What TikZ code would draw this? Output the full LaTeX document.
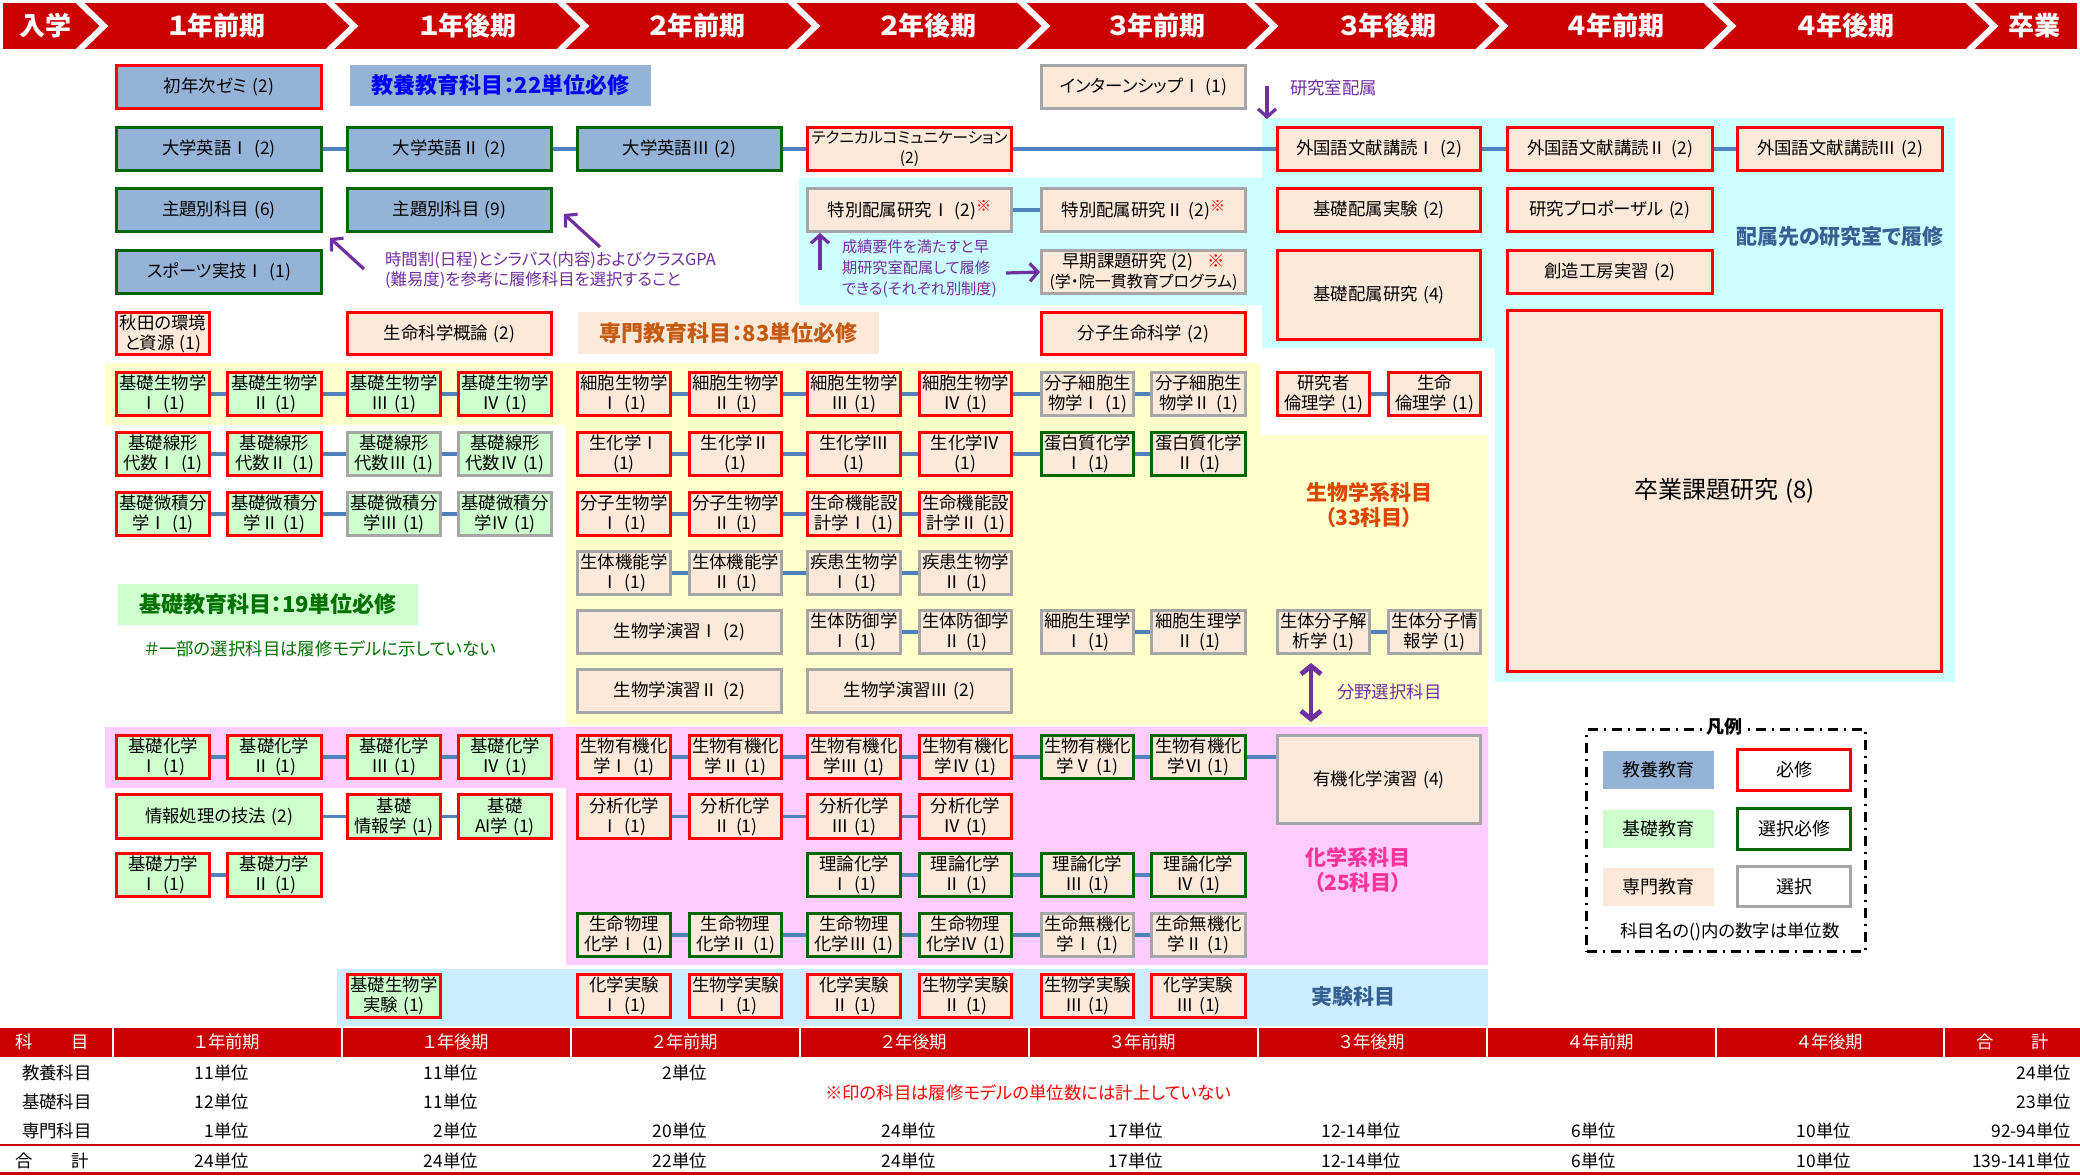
\documentclass[tikz,border=0pt]{standalone}
\usepackage{fontspec}
\setmainfont{Noto Sans CJK JP}[RawFeature={+palt}]
\usetikzlibrary{arrows.meta}
\pgfdeclarelayer{bgfill}
\pgfdeclarelayer{bglink}
\pgfsetlayers{bgfill,bglink,main}
\definecolor{kyoC}{RGB}{149,179,215}
\definecolor{kisC}{RGB}{204,255,204}
\definecolor{senC}{RGB}{253,233,217}
\definecolor{reqC}{RGB}{255,0,0}
\definecolor{selC}{RGB}{0,102,0}
\definecolor{optC}{RGB}{166,166,166}
\definecolor{linkC}{RGB}{79,129,189}
\definecolor{yelC}{RGB}{255,255,204}
\definecolor{pinkC}{RGB}{255,204,255}
\definecolor{cyanC}{RGB}{204,255,255}
\definecolor{expC}{RGB}{204,236,255}
\definecolor{hdrC}{RGB}{204,0,0}
\definecolor{purC}{RGB}{112,48,160}
\definecolor{steelC}{RGB}{54,96,146}
\definecolor{bioC}{RGB}{222,70,0}
\definecolor{chemC}{RGB}{255,51,153}
\definecolor{kyoT}{RGB}{0,0,255}
\definecolor{senT}{RGB}{197,90,17}
\definecolor{kisT}{RGB}{0,112,0}
\newcommand\fs{\fontsize{8.7}{10}\selectfont}
\newcommand\lab{\fontsize{11}{13}\selectfont\bfseries}
\newcommand\blab{\fontsize{10.5}{12.5}\selectfont\bfseries}
\newcommand\hdf{\fontsize{13}{15}\selectfont\bfseries}
\newcommand\cnt[1]{\hspace{0.3em}(#1)}
\newcommand\kome{{\color{reqC}\raisebox{0.6ex}{\fontsize{7.5}{8}\selectfont ※}}}
\newcommand\setc[3]{\expandafter\def\csname c#1a\endcsname{#2}\expandafter\def\csname c#1b\endcsname{#3}}
\newcommand\setr[3]{\expandafter\def\csname r#1a\endcsname{#2}\expandafter\def\csname r#1b\endcsname{#3}}
\setc{A}{115}{323}\setc{A1}{115}{211}\setc{A2}{226}{323}
\setc{B}{346}{553}\setc{B1}{346}{442}\setc{B2}{457}{553}
\setc{C}{576}{783}\setc{C1}{576}{672}\setc{C2}{688}{783}
\setc{D}{806}{1013}\setc{D1}{806}{902}\setc{D2}{918}{1013}
\setc{E}{1040}{1247}\setc{E1}{1040}{1135}\setc{E2}{1150}{1247}
\setc{F}{1276}{1482}\setc{F1}{1276}{1371}\setc{F2}{1387}{1482}
\setc{G}{1506}{1714}\setc{H}{1736}{1944}
\setr{0}{64}{110}\setr{1}{126}{172}\setr{2}{187}{233}\setr{3}{249}{295}
\setr{4}{311}{356}\setr{5}{371}{417}\setr{6}{431}{477}\setr{7}{491}{537}
\setr{8}{550}{596}\setr{9}{609}{655}\setr{10}{668}{714}\setr{11}{734}{780}
\setr{12}{793}{840}\setr{13}{852}{898}\setr{14}{912}{958}\setr{15}{973}{1019}
\tikzset{
  bx/.style={draw, line width=1.7pt, align=center, inner sep=0pt, text=black},
  ky/.style={fill=kyoC}, ki/.style={fill=kisC}, se/.style={fill=senC},
  rq/.style={draw=reqC}, sl/.style={draw=selC}, op/.style={draw=optC},
  conn/.style={draw=linkC, line width=1.8pt},
  parr/.style={draw=purC, line width=1.6pt, -{Straight Barb[length=4pt,width=9pt]}},
  darr/.style={draw=purC, line width=2.4pt, {Straight Barb[length=4pt,width=10pt]}-{Straight Barb[length=4pt,width=10pt]}},
  hdr/.style={text=white, font=\hdf},
  val/.style={anchor=east},
}
\newcommand\rbx[7]{\node[bx,#6,minimum width={(#4-#2)*0.5pt-1.7pt},minimum height={(#5-#3)*0.5pt-1.7pt}] (#1) at ({(#2+#4)/2},{(#3+#5)/2}) {#7};}
\newcommand\bx[5]{\edef\bxXa{\csname c#2a\endcsname}\edef\bxXb{\csname c#2b\endcsname}\edef\bxYa{\csname r#3a\endcsname}\edef\bxYb{\csname r#3b\endcsname}\rbx{#1}{\bxXa}{\bxYa}{\bxXb}{\bxYb}{#4}{#5}}
\begin{document}
\begin{tikzpicture}[x=0.5pt,y=-0.5pt,font=\fs]
\useasboundingbox (0,0) rectangle (2080,1175);
\begin{pgfonlayer}{bgfill}
\fill[white] (0,0) rectangle (2080,1175);
\fill[yelC] (105,363) -- (1260,363) -- (1260,435) -- (1488,435) -- (1488,725) -- (566,725) -- (566,425) -- (105,425) -- cycle;
\fill[pinkC] (105,727) -- (1488,727) -- (1488,965) -- (566,965) -- (566,788) -- (105,788) -- cycle;
\fill[cyanC] (799,178) -- (1262,178) -- (1262,118) -- (1955,118) -- (1955,682) -- (1495,682) -- (1495,348) -- (1262,348) -- (1262,305) -- (799,305) -- cycle;
\fill[expC] (337,969) rectangle (1488,1026);
\end{pgfonlayer}
% header band
\fill[hdrC] (3,3) rectangle (2077,49);
\begin{scope}
\clip (3,3) rectangle (2077,49);
\foreach \a in {77,327,558,789,1019,1247,1477,1705,1967}
  \draw[white, line width=3pt, miter limit=10] (\a,0) -- (\a+27,26) -- (\a,52);
\end{scope}
\foreach \t/\x [count=\i] in {入学/45,１年前期/217,１年後期/468,２年前期/697,２年後期/928,３年前期/1157,３年後期/1388,４年前期/1616,４年後期/1846,卒業/2034}
  \node[hdr] (hd\i) at (\x,26) {\t};
% row 0
\bx{zemi}{A}{0}{ky,rq}{初年次ゼミ\cnt{2}}
\rbx{lkyo}{348}{63}{653}{108}{draw=none,fill=kyoC,font=\lab,text=kyoT}{教養教育科目：22単位必修}
\bx{intern}{E}{0}{se,op}{インターンシップⅠ\cnt{1}}
% row 1
\bx{eng1}{A}{1}{ky,sl}{大学英語Ⅰ\cnt{2}}
\bx{eng2}{B}{1}{ky,sl}{大学英語Ⅱ\cnt{2}}
\bx{eng3}{C}{1}{ky,sl}{大学英語Ⅲ\cnt{2}}
\bx{tech}{D}{1}{se,rq,font=\fontsize{7.8}{10}\selectfont}{テクニカルコミュニケーション\\(2)}
\bx{fl1}{F}{1}{se,rq}{外国語文献講読Ⅰ\cnt{2}}
\bx{fl2}{G}{1}{se,rq}{外国語文献講読Ⅱ\cnt{2}}
\bx{fl3}{H}{1}{se,rq}{外国語文献講読Ⅲ\cnt{2}}
% row 2
\bx{shu1}{A}{2}{ky,sl}{主題別科目\cnt{6}}
\bx{shu2}{B}{2}{ky,sl}{主題別科目\cnt{9}}
\bx{tok1}{D}{2}{se,op}{特別配属研究Ⅰ\cnt{2}\kome}
\bx{tok2}{E}{2}{se,op}{特別配属研究Ⅱ\cnt{2}\kome}
\bx{hzj}{F}{2}{se,rq}{基礎配属実験\cnt{2}}
\bx{prop}{G}{2}{se,rq}{研究プロポーザル\cnt{2}}
% row 3
\bx{spo}{A}{3}{ky,sl}{スポーツ実技Ⅰ\cnt{1}}
\bx{soki}{E}{3}{se,op}{早期課題研究\cnt{2}\hspace{0.8em}{\color{reqC}※}\\{\fontsize{8}{10}\selectfont(学・院一貫教育プログラム)}}
\rbx{hzk}{1276}{249}{1482}{341}{se,rq}{基礎配属研究\cnt{4}}
\bx{sozo}{G}{3}{se,rq}{創造工房実習\cnt{2}}
% row 4
\bx{akita}{A1}{4}{se,rq}{秋田の環境\\と資源\cnt{1}}
\bx{gairon}{B}{4}{se,rq}{生命科学概論\cnt{2}}
\rbx{lsen}{576}{310}{881}{356}{draw=none,fill=senC,font=\lab,text=senT}{専門教育科目：83単位必修}
\bx{bunshi}{E}{4}{se,rq}{分子生命科学\cnt{2}}
\rbx{sotsu}{1506}{309}{1943}{673}{se,rq,font=\fontsize{12}{14}\selectfont}{卒業課題研究\cnt{8}}
% row 5
\bx{bio1}{A1}{5}{ki,rq}{基礎生物学\\Ⅰ\cnt{1}}
\bx{bio2}{A2}{5}{ki,rq}{基礎生物学\\Ⅱ\cnt{1}}
\bx{bio3}{B1}{5}{ki,rq}{基礎生物学\\Ⅲ\cnt{1}}
\bx{bio4}{B2}{5}{ki,rq}{基礎生物学\\Ⅳ\cnt{1}}
\bx{cell1}{C1}{5}{se,rq}{細胞生物学\\Ⅰ\cnt{1}}
\bx{cell2}{C2}{5}{se,rq}{細胞生物学\\Ⅱ\cnt{1}}
\bx{cell3}{D1}{5}{se,rq}{細胞生物学\\Ⅲ\cnt{1}}
\bx{cell4}{D2}{5}{se,rq}{細胞生物学\\Ⅳ\cnt{1}}
\bx{mcb1}{E1}{5}{se,op}{分子細胞生\\物学Ⅰ\cnt{1}}
\bx{mcb2}{E2}{5}{se,op}{分子細胞生\\物学Ⅱ\cnt{1}}
\bx{eth1}{F1}{5}{se,rq}{研究者\\倫理学\cnt{1}}
\bx{eth2}{F2}{5}{se,rq}{生命\\倫理学\cnt{1}}
% row 6
\bx{lin1}{A1}{6}{ki,rq}{基礎線形\\代数Ⅰ\cnt{1}}
\bx{lin2}{A2}{6}{ki,rq}{基礎線形\\代数Ⅱ\cnt{1}}
\bx{lin3}{B1}{6}{ki,op}{基礎線形\\代数Ⅲ\cnt{1}}
\bx{lin4}{B2}{6}{ki,op}{基礎線形\\代数Ⅳ\cnt{1}}
\bx{bch1}{C1}{6}{se,rq}{生化学Ⅰ\\(1)}
\bx{bch2}{C2}{6}{se,rq}{生化学Ⅱ\\(1)}
\bx{bch3}{D1}{6}{se,rq}{生化学Ⅲ\\(1)}
\bx{bch4}{D2}{6}{se,rq}{生化学Ⅳ\\(1)}
\bx{prot1}{E1}{6}{se,sl}{蛋白質化学\\Ⅰ\cnt{1}}
\bx{prot2}{E2}{6}{se,sl}{蛋白質化学\\Ⅱ\cnt{1}}
% row 7
\bx{cal1}{A1}{7}{ki,rq}{基礎微積分\\学Ⅰ\cnt{1}}
\bx{cal2}{A2}{7}{ki,rq}{基礎微積分\\学Ⅱ\cnt{1}}
\bx{cal3}{B1}{7}{ki,op}{基礎微積分\\学Ⅲ\cnt{1}}
\bx{cal4}{B2}{7}{ki,op}{基礎微積分\\学Ⅳ\cnt{1}}
\bx{mol1}{C1}{7}{se,rq}{分子生物学\\Ⅰ\cnt{1}}
\bx{mol2}{C2}{7}{se,rq}{分子生物学\\Ⅱ\cnt{1}}
\bx{fdes1}{D1}{7}{se,rq}{生命機能設\\計学Ⅰ\cnt{1}}
\bx{fdes2}{D2}{7}{se,rq}{生命機能設\\計学Ⅱ\cnt{1}}
% row 8
\bx{phy1}{C1}{8}{se,op}{生体機能学\\Ⅰ\cnt{1}}
\bx{phy2}{C2}{8}{se,op}{生体機能学\\Ⅱ\cnt{1}}
\bx{dis1}{D1}{8}{se,op}{疾患生物学\\Ⅰ\cnt{1}}
\bx{dis2}{D2}{8}{se,op}{疾患生物学\\Ⅱ\cnt{1}}
% row 9
\bx{ens1}{C}{9}{se,op}{生物学演習Ⅰ\cnt{2}}
\bx{def1}{D1}{9}{se,op}{生体防御学\\Ⅰ\cnt{1}}
\bx{def2}{D2}{9}{se,op}{生体防御学\\Ⅱ\cnt{1}}
\bx{cph1}{E1}{9}{se,op}{細胞生理学\\Ⅰ\cnt{1}}
\bx{cph2}{E2}{9}{se,op}{細胞生理学\\Ⅱ\cnt{1}}
\bx{bma}{F1}{9}{se,op}{生体分子解\\析学\cnt{1}}
\bx{bmi}{F2}{9}{se,op}{生体分子情\\報学\cnt{1}}
% row 10
\bx{ens2}{C}{10}{se,op}{生物学演習Ⅱ\cnt{2}}
\bx{ens3}{D}{10}{se,op}{生物学演習Ⅲ\cnt{2}}
% labels middle
\rbx{lkis}{116}{582}{420}{627}{draw=none,fill=kisC,font=\lab,text=kisT}{基礎教育科目：19単位必修}
\node[anchor=west, text=kisT] (lnote) at (138,649) {＃一部の選択科目は履修モデルに示していない};
\node[font=\blab, text=bioC, align=center] (lbio) at (1369,505) {生物学系科目\\（33科目）};
% row 11
\bx{chem1}{A1}{11}{ki,rq}{基礎化学\\Ⅰ\cnt{1}}
\bx{chem2}{A2}{11}{ki,rq}{基礎化学\\Ⅱ\cnt{1}}
\bx{chem3}{B1}{11}{ki,rq}{基礎化学\\Ⅲ\cnt{1}}
\bx{chem4}{B2}{11}{ki,rq}{基礎化学\\Ⅳ\cnt{1}}
\bx{orc1}{C1}{11}{se,rq}{生物有機化\\学Ⅰ\cnt{1}}
\bx{orc2}{C2}{11}{se,rq}{生物有機化\\学Ⅱ\cnt{1}}
\bx{orc3}{D1}{11}{se,rq}{生物有機化\\学Ⅲ\cnt{1}}
\bx{orc4}{D2}{11}{se,rq}{生物有機化\\学Ⅳ\cnt{1}}
\bx{orc5}{E1}{11}{se,sl}{生物有機化\\学Ⅴ\cnt{1}}
\bx{orc6}{E2}{11}{se,sl}{生物有機化\\学Ⅵ\cnt{1}}
\rbx{orex}{1276}{734}{1482}{825}{se,op}{有機化学演習\cnt{4}}
% row 12
\bx{info}{A}{12}{ki,rq}{情報処理の技法\cnt{2}}
\bx{infb}{B1}{12}{ki,rq}{基礎\\情報学\cnt{1}}
\bx{ai}{B2}{12}{ki,rq}{基礎\\AI学\cnt{1}}
\bx{ana1}{C1}{12}{se,rq}{分析化学\\Ⅰ\cnt{1}}
\bx{ana2}{C2}{12}{se,rq}{分析化学\\Ⅱ\cnt{1}}
\bx{ana3}{D1}{12}{se,rq}{分析化学\\Ⅲ\cnt{1}}
\bx{ana4}{D2}{12}{se,rq}{分析化学\\Ⅳ\cnt{1}}
% row 13
\bx{mech1}{A1}{13}{ki,rq}{基礎力学\\Ⅰ\cnt{1}}
\bx{mech2}{A2}{13}{ki,rq}{基礎力学\\Ⅱ\cnt{1}}
\bx{theo1}{D1}{13}{se,sl}{理論化学\\Ⅰ\cnt{1}}
\bx{theo2}{D2}{13}{se,sl}{理論化学\\Ⅱ\cnt{1}}
\bx{theo3}{E1}{13}{se,sl}{理論化学\\Ⅲ\cnt{1}}
\bx{theo4}{E2}{13}{se,sl}{理論化学\\Ⅳ\cnt{1}}
\node[font=\blab, text=chemC, align=center] (lchem) at (1358,870) {化学系科目\\（25科目）};
% row 14
\bx{pch1}{C1}{14}{se,sl}{生命物理\\化学Ⅰ\cnt{1}}
\bx{pch2}{C2}{14}{se,sl}{生命物理\\化学Ⅱ\cnt{1}}
\bx{pch3}{D1}{14}{se,sl}{生命物理\\化学Ⅲ\cnt{1}}
\bx{pch4}{D2}{14}{se,sl}{生命物理\\化学Ⅳ\cnt{1}}
\bx{ino1}{E1}{14}{se,op}{生命無機化\\学Ⅰ\cnt{1}}
\bx{ino2}{E2}{14}{se,op}{生命無機化\\学Ⅱ\cnt{1}}
% row 15
\bx{bexp}{B1}{15}{ki,rq}{基礎生物学\\実験\cnt{1}}
\bx{cx1}{C1}{15}{se,rq}{化学実験\\Ⅰ\cnt{1}}
\bx{bx1}{C2}{15}{se,rq}{生物学実験\\Ⅰ\cnt{1}}
\bx{cx2}{D1}{15}{se,rq}{化学実験\\Ⅱ\cnt{1}}
\bx{bx2}{D2}{15}{se,rq}{生物学実験\\Ⅱ\cnt{1}}
\bx{bx3}{E1}{15}{se,rq}{生物学実験\\Ⅲ\cnt{1}}
\bx{cx3}{E2}{15}{se,rq}{化学実験\\Ⅲ\cnt{1}}
\node[font=\blab, text=steelC] (lexp) at (1353,997) {実験科目};
\node[font=\blab, text=steelC] (lhaz) at (1840,237) {配属先の研究室で履修};
% connectors
\begin{pgfonlayer}{bglink}
\foreach \a/\b in {eng1/eng2,eng2/eng3,eng3/tech,tech/fl1,fl1/fl2,fl2/fl3,tok1/tok2,
  bio1/bio2,bio2/bio3,bio3/bio4,cell1/cell2,cell2/cell3,cell3/cell4,cell4/mcb1,mcb1/mcb2,eth1/eth2,
  lin1/lin2,lin2/lin3,lin3/lin4,bch1/bch2,bch2/bch3,bch3/bch4,bch4/prot1,prot1/prot2,
  cal1/cal2,cal2/cal3,cal3/cal4,mol1/mol2,mol2/fdes1,fdes1/fdes2,
  phy1/phy2,phy2/dis1,dis1/dis2,def1/def2,cph1/cph2,bma/bmi,
  chem1/chem2,chem2/chem3,chem3/chem4,orc1/orc2,orc2/orc3,orc3/orc4,orc4/orc5,orc5/orc6,
  info/infb,infb/ai,ana1/ana2,ana2/ana3,ana3/ana4,
  mech1/mech2,theo1/theo2,theo2/theo3,theo3/theo4,
  pch1/pch2,pch2/pch3,pch3/pch4,pch4/ino1,ino1/ino2}
  \draw[conn] (\a.east) -- (\b.west);
\draw[conn] (orc6.east) -- (orc6.east -| orex.west);
\end{pgfonlayer}
% annotations
\node[anchor=west, text=purC, align=left, font=\fontsize{8.2}{10}\selectfont] (note1) at (378,270) {時間割(日程)とシラバス(内容)およびクラスGPA\\(難易度)を参考に履修科目を選択すること};
\node[anchor=west, text=purC, align=left, font=\fontsize{7.6}{10.5}\selectfont] (note2) at (835,269) {成績要件を満たすと早\\期研究室配属して履修\\できる(それぞれ別制度)};
\node[anchor=west, text=purC] (note3) at (1283,88) {研究室配属};
\node[anchor=west, text=purC] (note4) at (1330,692) {分野選択科目};
\coordinate (p1s) at (364,269); \coordinate (p1e) at (330,238);
\coordinate (p2s) at (600,247); \coordinate (p2e) at (564,214);
\coordinate (p3s) at (820,270);
\coordinate (p4s) at (1006,273);
\coordinate (p5s) at (1267,86); \coordinate (p5e) at (1267,119);
\coordinate (p6a) at (1311,663); \coordinate (p6b) at (1311,722);
\draw[parr] (p1s) -- (p1e);
\draw[parr] (p2s) -- (p2e);
\draw[parr] (p3s) -- (p3s |- tok1.south);
\draw[parr] (p4s) -- (soki.west);
\draw[parr] (p5s) -- (p5e);
\draw[darr] (p6a) -- (p6b);
% legend
\rbx{legend}{1585}{728}{1867}{953}{draw=black,line width=1.3pt,dash pattern=on 5pt off 3pt on 1pt off 3pt}{}
\node[fill=white, font=\fontsize{9}{10}\selectfont\bfseries, inner sep=1.5pt] (legT) at (1724,727) {凡例};
\rbx{lg1}{1601}{749}{1716}{791}{draw=none,fill=kyoC,font=\fontsize{9}{10}\selectfont}{教養教育}
\rbx{lg2}{1736}{748}{1852}{792}{rq,fill=white,font=\fontsize{9}{10}\selectfont}{必修}
\rbx{lg3}{1601}{808}{1716}{850}{draw=none,fill=kisC,font=\fontsize{9}{10}\selectfont}{基礎教育}
\rbx{lg4}{1736}{807}{1852}{851}{sl,fill=white,font=\fontsize{9}{10}\selectfont}{選択必修}
\rbx{lg5}{1601}{866}{1716}{908}{draw=none,fill=senC,font=\fontsize{9}{10}\selectfont}{専門教育}
\rbx{lg6}{1736}{865}{1852}{908}{op,fill=white,font=\fontsize{9}{10}\selectfont}{選択}
\node (lgn) at (1730,932) {科目名の()内の数字は単位数};
% table
\fill[hdrC] (0,1028) rectangle (2080,1057);
\foreach \x in {113,342,571,800,1029,1258,1487,1716,1944}
  \draw[white, line width=1pt] (\x,1028) -- (\x,1057);
\node[text=white] (thA) at (24,1042) {科};
\node[text=white] (thB) at (80,1042) {目};
\foreach \t [count=\i] in {１年前期,１年後期,２年前期,２年後期,３年前期,３年後期,４年前期,４年後期}
  \node[text=white] (th\i) at ({113+229*(\i-1)+114.5},1042) {\t};
\node[text=white] (thC) at (1985,1042) {合};
\node[text=white] (thD) at (2040,1042) {計};
\node[anchor=west] (rl1) at (15,1073) {教養科目};
\node[anchor=west] (rl2) at (15,1102) {基礎科目};
\node[anchor=west] (rl3) at (15,1131) {専門科目};
\node (rl4a) at (24,1161) {合};
\node (rl4b) at (80,1161) {計};
\foreach \x/\v [count=\i] in {256/11,485/11,714/2,2078/24}
  \node[val] (va\i) at (\x,1073) {\v 単位};
\foreach \x/\v [count=\i] in {256/12,485/11,2078/23}
  \node[val] (vb\i) at (\x,1102) {\v 単位};
\foreach \x/\v [count=\i] in {256/1,485/2,714/20,943/24,1170/17,1408/12-14,1623/6,1858/10,2078/92-94}
  \node[val] (vc\i) at (\x,1131) {\v 単位};
\foreach \x/\v [count=\i] in {256/24,485/24,714/22,943/24,1170/17,1408/12-14,1623/6,1858/10,2078/139-141}
  \node[val] (vd\i) at (\x,1161) {\v 単位};
\node[text=reqC] (knote) at (1028,1093) {※印の科目は履修モデルの単位数には計上していない};
\draw[hdrC, line width=1.2pt] (0,1145) -- (2080,1145);
\draw[hdrC, line width=1.5pt] (0,1173) -- (2080,1173);
\end{tikzpicture}
\end{document}
